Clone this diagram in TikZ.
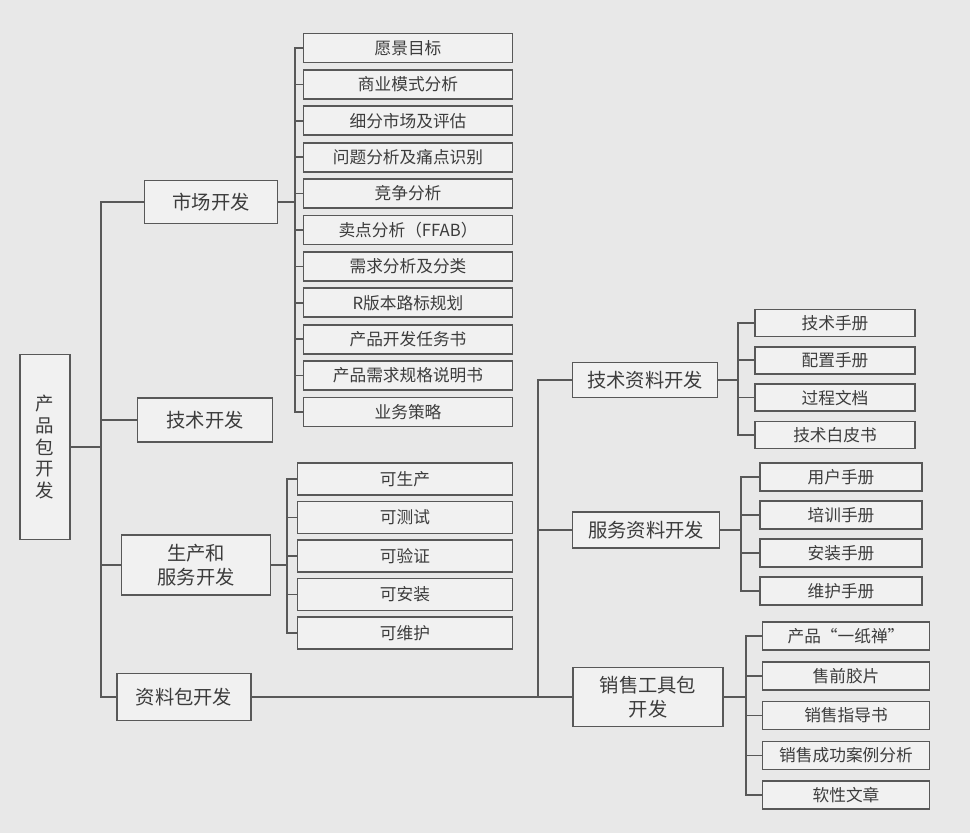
\documentclass[tikz,border=0pt]{standalone}
\usepackage{fontspec}
\setmainfont{Noto Sans CJK SC}
\usetikzlibrary{positioning}
\definecolor{paper}{HTML}{E8E8E8}
\definecolor{ink}{HTML}{585858}
\definecolor{txt}{HTML}{3C3C3C}
\tikzset{
  box/.style={draw=ink, line width=1pt, fill=paper!60!white, text=txt,
    inner sep=1pt, align=center, font=\fontsize{11}{14}\selectfont},
  leaf/.style={box, font=\fontsize{9.5}{11}\selectfont},
  line/.style={draw=ink, line width=1pt}
}

\begin{document}
\begin{tikzpicture}[x=0.02cm, y=-0.02cm]
   \fill[paper] (0,0) rectangle (970,833);
   \useasboundingbox (0,0) rectangle (970,833);

   % root and first level
   \node[box, minimum width=1cm, minimum height=3.7cm,
         font=\fontsize{10.5}{12.5}\selectfont] (root) at (45,447) {产\\品\\包\\开\\发};
   \node[box, minimum width=2.66cm, minimum height=0.86cm] (mkt)  at (211,202) {市场开发};
   \node[box, minimum width=2.7cm,  minimum height=0.88cm] (tech) at (205,420) {技术开发};
   \node[box, minimum width=2.98cm, minimum height=1.2cm]  (prod) at (196,565) {生产和\\服务开发};
   \node[box, minimum width=2.68cm, minimum height=0.94cm] (docs) at (184,697) {资料包开发};

   \foreach \n in {mkt,tech,prod,docs}
     \draw[line] (root.east) -- ++(30,0) |- (\n.west);

   % market development
   \foreach \t [count=\i] in {愿景目标,商业模式分析,细分市场及评估,问题分析及痛点识别,
       竞争分析,卖点分析（FFAB）,需求分析及分类,R版本路标规划,产品开发任务书,
       产品需求规格说明书,业务策略}
   {
     \node[leaf, minimum width=4.18cm, minimum height=0.58cm] (m\i) at (408,{48+36.4*(\i-1)}) {\t};
     \draw[line] (mkt.east) -- ++(17,0) |- (m\i.west);
   }

   % production and service
   \foreach \t [count=\i] in {可生产,可测试,可验证,可安装,可维护}
   {
     \node[leaf, minimum width=4.3cm, minimum height=0.64cm] (p\i) at (405,{479+38.5*(\i-1)}) {\t};
     \draw[line] (prod.east) -- ++(16,0) |- (p\i.west);
   }

   % document package
   \node[box, minimum width=2.9cm,  minimum height=0.7cm]  (tdoc) at (645,380) {技术资料开发};
   \node[box, minimum width=2.94cm, minimum height=0.72cm] (sdoc) at (646,530) {服务资料开发};
   \node[box, minimum width=3cm,    minimum height=1.18cm] (sale) at (648,697) {销售工具包\\开发};

   \foreach \n in {tdoc,sdoc,sale}
     \draw[line] (docs.east) -- ++(286,0) |- (\n.west);

   \foreach \t [count=\i] in {技术手册,配置手册,过程文档,技术白皮书}
   {
     \node[leaf, minimum width=3.2cm, minimum height=0.54cm] (t\i) at (835,{323+37.3*(\i-1)}) {\t};
     \draw[line] (tdoc.east) -- ++(20,0) |- (t\i.west);
   }

   \foreach \t [count=\i] in {用户手册,培训手册,安装手册,维护手册}
   {
     \node[leaf, minimum width=3.24cm, minimum height=0.56cm] (s\i) at (841,{477+38*(\i-1)}) {\t};
     \draw[line] (sdoc.east) -- ++(21,0) |- (s\i.west);
   }

   \foreach \t [count=\i] in {产品“一纸禅”,售前胶片,销售指导书,销售成功案例分析,软性文章}
   {
     \node[leaf, minimum width=3.34cm, minimum height=0.56cm] (k\i) at (846,{636+39.8*(\i-1)}) {\t};
     \draw[line] (sale.east) -- ++(22,0) |- (k\i.west);
   }
\end{tikzpicture}
\end{document}
